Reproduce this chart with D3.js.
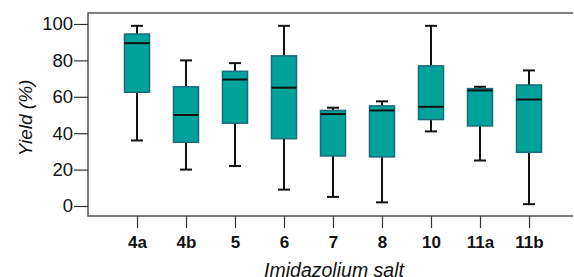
<!DOCTYPE html>
<html>
<head>
<meta charset="utf-8">
<script src="https://cdn.jsdelivr.net/npm/d3@7"></script>
<style>
  html, body { margin: 0; padding: 0; background: #fff; }
  svg text { font-family: "Liberation Sans", Arial, sans-serif; fill: #111; }
</style>
</head>
<body>
<div id="chart"></div>
<script>
'use strict'

// imidazolium salts on x
var salts = ['4a', '4b', '5', '6', '7', '8', '10', '11a', '11b']
// box stats (% yield)
var whiskerLow  = [36, 20, 22, 9, 5, 2, 41, 25, 1]
var boxLow      = [62.5, 35, 45.5, 37, 27.5, 27, 47.5, 44, 29.5]
var medians     = [89.5, 50, 69.5, 65, 50.5, 52.5, 54.5, 63.5, 58.5]
var boxHigh     = [94.5, 65.5, 74, 82.5, 52.5, 55, 77, 64.5, 66.5]
var whiskerHigh = [99, 80, 78.5, 99, 54, 57.5, 99, 65.5, 74.5]
var yTicks = [0, 20, 40, 60, 80, 100]

var W = 574, H = 277
  , m = { left: 88, top: 13, right: 0, bottom: 61 }
  , svg = d3.select('#chart').append('svg').attr('width', W).attr('height', H)
  , data = salts.map(function(s, i){
      return { k: s, lo: whiskerLow[i], q1: boxLow[i], med: medians[i], q3: boxHigh[i], hi: whiskerHigh[i] }
    })

var x = d3.scalePoint().domain(salts).range([137, 529])
  , y = d3.scaleLinear().domain([0, 100]).range([206, 24])
  , bw = 25, cap = 12

// frame: top, left and bottom lines (open on the right)
svg.append('path')
  .attr('d', 'M' + (W - 1) + ',' + m.top + 'H' + m.left + 'V' + (H - m.bottom) + 'H' + (W - 1))
  .attr('fill', 'none').attr('stroke', '#555').attr('stroke-width', 1.5)

// y axis
var ya = svg.append('g').attr('transform', 'translate(' + m.left + ',0)')
  .call(d3.axisLeft(y).tickValues(yTicks).tickSize(14).tickPadding(1))
ya.select('.domain').remove()
ya.selectAll('line').attr('stroke', '#333').attr('stroke-width', 1.2)
ya.selectAll('text').style('font-size', '18.5px').attr('fill', '#111')

// x axis
var xa = svg.append('g').attr('transform', 'translate(0,' + (H - m.bottom) + ')')
  .call(d3.axisBottom(x).tickSize(12).tickPadding(8))
xa.select('.domain').remove()
xa.selectAll('line').attr('stroke', '#333').attr('stroke-width', 1.2)
xa.selectAll('text').style('font-size', '17px').style('font-weight', 'bold').attr('fill', '#111')

// boxes
var g = svg.selectAll('g.box').data(data).enter().append('g').attr('class', 'box')

g.append('line')
  .attr('x1', function(d){ return x(d.k) }).attr('x2', function(d){ return x(d.k) })
  .attr('y1', function(d){ return y(d.lo) }).attr('y2', function(d){ return y(d.hi) })
  .attr('stroke', '#111').attr('stroke-width', 2)

g.selectAll('line.cap').data(function(d){ return [[d.k, d.lo], [d.k, d.hi]] }).enter().append('line')
  .attr('class', 'cap')
  .attr('x1', function(d){ return x(d[0]) - cap / 2 }).attr('x2', function(d){ return x(d[0]) + cap / 2 })
  .attr('y1', function(d){ return y(d[1]) }).attr('y2', function(d){ return y(d[1]) })
  .attr('stroke', '#111').attr('stroke-width', 2)

g.append('rect')
  .attr('x', function(d){ return x(d.k) - bw / 2 }).attr('width', bw)
  .attr('y', function(d){ return y(d.q3) })
  .attr('height', function(d){ return y(d.q1) - y(d.q3) })
  .attr('fill', '#00a29b').attr('stroke', '#1b6b7a').attr('stroke-width', 1.5)

g.append('line')
  .attr('x1', function(d){ return x(d.k) - bw / 2 }).attr('x2', function(d){ return x(d.k) + bw / 2 })
  .attr('y1', function(d){ return y(d.med) }).attr('y2', function(d){ return y(d.med) })
  .attr('stroke', '#111').attr('stroke-width', 2)

// titles
svg.append('text')
  .attr('transform', 'translate(32,118) rotate(-90)')
  .attr('text-anchor', 'middle')
  .style('font-size', '19px').style('font-style', 'italic')
  .text('Yield (%)')

svg.append('text')
  .attr('x', 334).attr('y', 276.5)
  .attr('text-anchor', 'middle')
  .style('font-size', '19.5px').style('font-style', 'italic')
  .text('Imidazolium salt')
</script>
</body>
</html>
